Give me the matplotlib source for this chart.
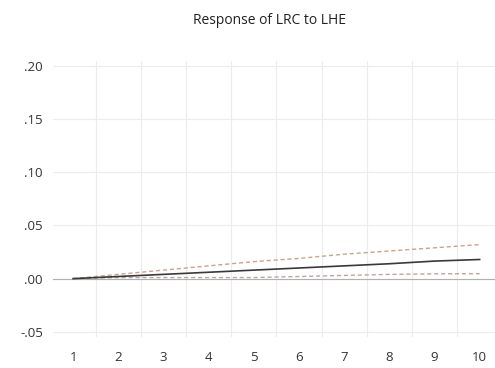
import matplotlib
matplotlib.use("Agg")
import matplotlib.pyplot as plt
from matplotlib.ticker import FixedLocator, FuncFormatter

# impulse response of LRC to a shock in LHE, periods 1..10
periods = [1, 2, 3, 4, 5, 6, 7, 8, 9, 10]
response = [0.000, 0.002, 0.004, 0.006, 0.008, 0.010, 0.012, 0.014, 0.0165, 0.018]
upper_band = [0.000, 0.004, 0.008, 0.012, 0.016, 0.019, 0.023, 0.026, 0.029, 0.032]
lower_band = [0.000, 0.001, 0.001, 0.001, 0.001, 0.002, 0.003, 0.004, 0.0045, 0.0047]

y_ticks = [-0.05, 0.00, 0.05, 0.10, 0.15, 0.20]

plt.rcParams["font.family"] = ["Open Sans", "DejaVu Sans"]

fig = plt.figure(figsize=(4.95, 3.68), dpi=100)
ax = fig.add_axes([0.1065, 0.084, 0.8935, 0.751])

ax.plot(periods, upper_band, color="#c9a48c", lw=1.0, ls=(0, (3, 2)), zorder=3)
ax.plot(periods, lower_band, color="#b8a8a0", lw=1.0, ls=(0, (3, 2)), zorder=3)
ax.plot(periods, response, color="#3a3a3a", lw=1.2, zorder=4)
ax.axhline(0, color="#b0b0b0", lw=0.8, zorder=2)

ax.set_xlim(0.55, 10.34)
ax.set_ylim(-0.055, 0.205)
ax.set_xticks(periods)
ax.set_yticks(y_ticks)
ax.xaxis.set_minor_locator(FixedLocator([p + 0.5 for p in periods[:-1]]))
ax.yaxis.set_major_formatter(FuncFormatter(lambda v, _: f"{v:.2f}".replace("0.", ".")))

ax.grid(axis="y", which="major", color="#ececec", lw=0.8)
ax.grid(axis="x", which="minor", color="#ececec", lw=0.8)
ax.tick_params(which="both", length=0, labelsize=9.5, colors="#333333")
ax.tick_params(axis="x", pad=10)
ax.tick_params(axis="y", pad=7)
for s in ax.spines.values():
    s.set_visible(False)

fig.text(0.545, 0.945, "Response of LRC to LHE", ha="center", va="center",
         fontsize=10, color="#222222")

fig.savefig("out.png", dpi=100)
